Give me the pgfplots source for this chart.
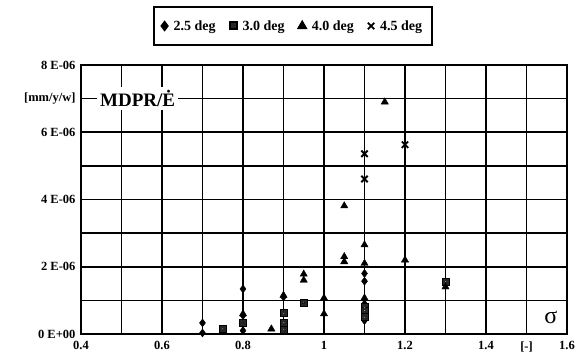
\documentclass[border=0pt]{standalone}
\usepackage{fontspec}
\setmainfont{Liberation Serif}
\usepackage{pgfplots}
\pgfplotsset{compat=1.18}
\begin{document}
\begin{tikzpicture}
\path[use as bounding box] (-81pt,-27pt) rectangle (498pt,334pt);
\begin{axis}[
  at={(0pt,0pt)}, anchor=south west,
  scale only axis, width=486pt, height=269pt,
  xmin=0.4, xmax=1.6, ymin=0, ymax=8,
  xtick={0.4,0.5,0.6,0.7,0.8,0.9,1.0,1.1,1.2,1.3,1.4,1.5,1.6},
  xticklabels={0.4,,0.6,,0.8,,1,,1.2,,1.4,[-],1.6},
  ytick={0,1,2,3,4,5,6,7,8},
  yticklabels={0 E+00,,2 E-06,,4 E-06,,6 E-06,[mm/y/w],8 E-06},
  grid=major,
  major grid style={black, line width=1.7pt},
  axis line style={black, line width=2pt},
  major tick length=0pt,
  tick label style={font=\fontsize{12.5}{14}\selectfont\bfseries},
  xticklabel style={yshift=-4pt},
  yticklabel style={xshift=-2pt},
  legend columns=4,
  legend style={at={(axis description cs:0.436,1.145)}, anchor=center,
    draw=black, line width=2pt, inner xsep=8pt, inner ysep=11pt,
    font=\fontsize{14}{16}\selectfont\bfseries,
    /tikz/every odd column/.append style={column sep=4pt},
    /tikz/every even column/.append style={column sep=12pt}},
  legend cell align=left,
]
\addplot[only marks, mark=diamond*, mark size=4pt, mark options={fill=black, draw=black}] coordinates {
(0.7,0.33) (0.7,0.03) (0.8,1.34) (0.8,0.55) (0.8,0.3) (0.8,0.1) (0.9,1.1)
(1.1,1.8) (1.1,1.57) (1.1,0.9) (1.1,0.6) (1.1,0.4)
};
\addlegendentry{2.5 deg}
\addplot[only marks, mark=square*, mark size=3.5pt, mark options={fill=black!85, draw=black}] coordinates {
(0.75,0.15) (0.8,0.35) (0.9,0.62) (0.9,0.33) (0.9,0.12) (0.95,0.93)
(1.1,0.8) (1.1,0.7) (1.1,0.5) (1.3,1.57)
};
\addlegendentry{3.0 deg}
\addplot[only marks, mark=triangle*, mark size=4.2pt, mark options={fill=black, draw=black}] coordinates {
(0.8,0.6) (0.87,0.15) (0.9,1.15) (0.95,1.78) (0.95,1.6) (1.0,1.07) (1.0,0.6)
(1.05,3.81) (1.05,2.3) (1.05,2.15) (1.1,2.65) (1.1,2.1) (1.1,1.07)
(1.15,6.9) (1.2,2.2) (1.3,1.4)
};
\addlegendentry{4.0 deg}
\addplot[only marks, mark=x, mark size=4.5pt, mark options={draw=black, line width=1.8pt}] coordinates {
(1.1,5.36) (1.1,4.61) (1.2,5.63)
};
\addlegendentry{4.5 deg}
\addplot[forget plot, only marks, mark=*, mark size=1pt, mark options={fill=white, draw=none}] coordinates {
(0.75,0.15) (0.8,0.35) (0.9,0.62) (0.9,0.33) (0.9,0.12) (0.95,0.93)
(1.1,0.8) (1.1,0.7) (1.1,0.5) (1.3,1.57)
};
\node[fill=white, inner sep=3pt, font=\fontsize{19}{21}\selectfont\bfseries] at (axis cs:0.54,7) {MDPR/Ė};
\node[font=\fontsize{24}{26}\selectfont] at (axis cs:1.56,0.5) {σ};
\end{axis}
\end{tikzpicture}
\end{document}
